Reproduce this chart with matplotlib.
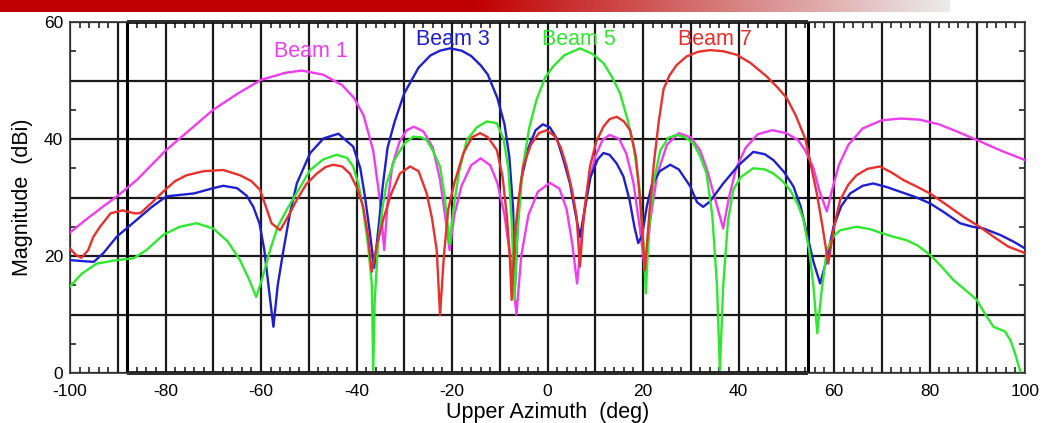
import numpy as np
import matplotlib.pyplot as plt
from matplotlib.ticker import MultipleLocator, FuncFormatter

plt.rcParams['font.family'] = ['Liberation Sans', 'DejaVu Sans']

# Beam 1 (magenta)
beam1_az = [-100, -97, -93, -90, -86, -80, -75, -70, -65, -60, -55, -51.5, -47, -43,
            -40.5, -38.5, -36.5, -35, -34.2, -33.5, -32.5, -31, -29.5, -28, -26, -24,
            -22.5, -21.3, -20.5, -19.5, -18, -16, -14, -12, -10.5, -9, -7.5, -6.5,
            -5.5, -4, -2, 0.5, 2.5, 4, 5.2, 6.2, 7.2, 8.5, 10, 11.5, 13, 15, 16.5,
            18, 19.3, 20.5, 21.5, 23, 25, 27.5, 30, 32, 33.5, 35, 36.8, 38, 39.5,
            41.5, 44, 47, 50, 52.5, 54, 55.7, 57, 58.5, 59.5, 61, 63, 66, 70, 74,
            78, 82, 86, 90, 95, 100]
beam1_db = [24, 26, 28.5, 30.3, 33, 38, 41.5, 45, 47.7, 50.1, 51.3, 51.7, 51, 49.2,
            47, 44, 38, 29, 21, 29, 35.5, 39.5, 41.5, 42.1, 41.3, 38.5,
            33, 26, 21, 27, 32, 35.5, 36.7, 35.5, 32.5, 27, 18, 10,
            20, 27, 31, 32.5, 31.5, 28, 22, 15.3, 24, 32, 37, 39.8, 40.7, 40, 37.5,
            32.5, 25, 17, 26, 34, 39, 41, 40.3, 38, 34.5, 30, 24.7, 30, 35,
            38.5, 40.8, 41.5, 41, 39.8, 38, 35, 31, 27.6, 31, 35.5, 39, 41.8, 43.2, 43.5,
            43.3, 42.5, 41.2, 39.8, 38, 36.4]

# Beam 3 (blue)
beam3_az = [-100, -97, -95, -93, -90.2, -86, -83, -79.8, -74, -70, -67.9, -65, -63,
            -61.6, -60.3, -59.3, -58.3, -57.4, -56.5, -55.3, -54, -52.5, -49.7, -46.9,
            -43.8, -40.7, -39.2, -38.2, -37.2, -36.3, -35.5, -34.5, -33.5, -32, -30,
            -27, -24.5, -22.5, -20.4, -18, -16, -14, -12.5, -10.5, -9, -8, -7.2, -6.8,
            -6.2, -5.5, -4, -2.5, -1, 0.5, 2, 3.5, 4.7, 5.8, 6.8, 7.8, 9, 10.5, 11.7,
            13, 14.5, 15.9, 17.2, 18.2, 19, 19.8, 20.8, 21.8, 23.5, 25.7, 27.5, 29.9,
            31.3, 32.6, 34, 36.8, 40, 43.1, 45.5, 47.3, 49.5, 51.5, 53, 54.3, 55.7,
            57.1, 58.5, 59.9, 61.5, 63.4, 66, 68.2, 71, 73.8, 77, 80.1, 83, 86.4, 89,
            91.3, 94.8, 97.5, 100]
beam3_db = [19.3, 19.1, 19.0, 20.5, 23.3, 26.2, 28.3, 30.2, 30.7, 31.6, 32, 31.6, 30.3,
            28.4, 25.5, 21, 14, 7.9, 15, 21, 27, 32.4, 37.6, 40.1,
            40.9, 38.7, 35, 30, 24, 18, 24, 32, 38.5, 43, 47.8,
            52.2, 54.3, 55.1, 55.5, 55.1, 54.2, 52.6, 51, 47, 42.5, 37, 28, 15,
            26, 33, 38.5, 41.5, 42.5, 42, 40, 36, 32.4, 27.5, 23.3, 28, 33.5, 36.5, 37.6,
            37.3, 35.8, 33.6, 29.5, 25, 22.2, 23.5, 28.5, 32, 34.5, 35.6, 34.8, 31.9,
            29.2, 28.4, 29.3, 32.4, 35.5, 37.8, 37.4, 36.4, 34.4, 31.9, 28.5, 23.9, 19,
            15.3, 19.5, 25, 28.5, 30.7, 32, 32.4, 31.8, 31, 30.1, 29, 27.5, 25.6, 25,
            24.7, 23.6, 22.5, 21.3]

# Beam 5 (green)
beam5_az = [-100, -97.5, -94.4, -90.2, -86.7, -84, -80.5, -77, -73.5, -70, -67, -64.4,
            -62.5, -61, -59.8, -58.1, -56.5, -54.6, -52, -49.7, -47, -44.2, -42, -40.7,
            -39.5, -38.6, -37.6, -36.8, -36.5, -36.2, -35.5, -34.6, -33.7, -32, -30,
            -28.1, -26.5, -25.3, -24, -22.5, -21.5, -20.5, -19.7, -18.5, -16.9, -14.8,
            -12.7, -10.6, -9.2, -8.2, -7.5, -6.9, -6.3, -5.2, -3.8, -2.3, -0.5, 1.2,
            3.5, 6.8, 9.5, 11.7, 13.5, 15.2, 16.7, 18, 19.2, 20.1, 20.6, 21.2, 22.2,
            23.6, 25.3, 27, 28.8, 30.5, 32, 33.3, 34.5, 35.5, 36.1, 36.8, 37.8, 38.9,
            40.5, 43.1, 45.5, 47.3, 49.2, 50.8, 52.5, 53.6, 54.8, 55.7, 56.5, 57.4,
            58.5, 60, 61.3, 64.7, 67.5, 70, 72.4, 75.2, 77.5, 80.1, 82.5, 85, 87.5,
            89.9, 91.7, 93.4, 95.8, 97, 97.9, 99]
beam5_db = [14.8, 17, 18.7, 19.3, 19.6, 21, 23.6, 25, 25.6, 24.7, 22.5, 19.3,
            16, 13, 16, 21, 25, 27.9, 31.5, 34.7, 36.5, 37.3, 36.8, 35.3,
            32, 27.9, 22, 15.3, 0.5, 12, 22, 28, 32.4, 36.5, 39.2,
            40.4, 40.3, 39.8, 38, 35.3, 30, 22, 28, 34.5, 39.8, 42,
            43, 42.7, 40, 35, 26, 12.5, 24, 35, 42, 46.7, 50.5, 52.4,
            54.3, 55.5, 54.5, 53, 50.6, 47.8, 43.5, 39, 32, 22, 13.6, 24, 32.5,
            38, 40.2, 40.7, 40.3, 39.3, 37, 34.1, 27, 15, 0.5, 15, 26, 31.3,
            33.5, 35, 34.8, 34.1, 32.8, 31.3, 28.7, 26.2, 21, 14.8, 6.8, 14,
            21, 23.5, 24.4, 25, 24.6, 23.9, 23.3, 22.7, 21.8, 20.2, 18.2, 15.9, 14.2,
            12.5, 10, 7.9, 7.1, 5.5, 3.4, 0.3]

# Beam 7 (red)
beam7_az = [-100, -98.8, -97.6, -96.2, -95.1, -93.7, -91.5, -89, -86.5, -85.3, -83,
            -80.5, -78, -75.6, -72, -67.9, -64.4, -62, -60.2, -58.8, -57.8, -56, -54.5,
            -52.5, -50.5, -48.3, -46.5, -44.9, -43, -41.4, -39.8, -38.6, -37.6, -36.8,
            -35.7, -34.4, -32.8, -30.9, -28.8, -27, -25.3, -24.2, -23.2, -22.5, -21.7,
            -20.8, -19.5, -17.6, -15.8, -14.1, -12.5, -10.6, -9.4, -8.5, -7.9, -7.5,
            -6.8, -6, -5.1, -3.5, -1.8, -0.2, 1.5, 2.8, 4, 5.2, 6.1, 6.8, 7.6, 8.9,
            10.2, 11.7, 13, 14.5, 16, 17.3, 18.5, 19.4, 20.4, 21.4, 22.3, 23.3, 24.3,
            25.5, 27, 29.1, 31.5, 34, 36.8, 39.6, 42.5, 45.9, 48.3, 50.1, 52, 54,
            55.3, 56.4, 57.6, 58.8, 60, 61.3, 63, 64.7, 67, 69.6, 72, 74.5, 77, 80.1,
            84, 87.1, 90.5, 93.4, 96.5, 100]
beam7_db = [21.3, 20.2, 19.7, 21, 23.3, 25, 27.3, 27.8, 27.3, 27.3, 29,
            31, 32.8, 33.8, 34.5, 34.7, 33.8, 32.8, 31.3, 28, 25.6, 24.4, 26.5,
            29.6, 32.3, 34.1, 35.2, 35.6, 35.3, 34.1, 31.5, 28.4, 23.5, 17.3,
            22, 26.2, 30.5, 34.1, 35.3, 34.5, 30.7, 26.5, 21, 9.9, 20,
            27.9, 32.5, 37.6, 40.3, 41, 40.3, 38.1, 33.5, 26.7, 20, 12.5,
            24, 30, 35.3, 39, 41, 41.5, 40.5, 38.5, 35.3, 31, 26.7, 18.2, 27, 35.3,
            39.5, 42.1, 43.4, 43.8, 43, 41.5, 37, 29.6, 17.6, 28, 36, 43, 48.5,
            50.8, 52.6, 54.1, 54.9, 55.2, 55, 54.4, 53, 50.7, 48.7, 47, 44, 40,
            35, 30.7, 25, 18.7, 25, 29.6, 32.2, 33.8, 34.9, 35.3, 34.3, 33, 32, 30.7,
            28.5, 26.7, 25, 23.3, 21.6, 20.5]

beam_names = ['Beam 1', 'Beam 3', 'Beam 5', 'Beam 7']
beam_colors = ['#f03cf0', '#1f1fd2', '#2ee82e', '#e8302c']
label_az = [-49.6, -19.9, 6.6, 35.1]
label_db = [54.0, 56.1, 56.1, 56.1]

frame_left = -88
frame_right = 54.5

W, H = 1054, 423
fig = plt.figure(figsize=(W / 100, H / 100), dpi=100)

# cropped slide title bar at the top
bar = fig.add_axes([0, 1 - 12 / H, 950 / W, 12 / H])
t = np.linspace(0, 1, 600)
red = np.array([192, 0, 0]) / 255
gray = np.array([236, 236, 236]) / 255
f = np.clip((t - 0.5) / 0.5, 0, 1)[:, None]
grad = red * (1 - f) + gray * f
bar.imshow(grad[None, :, :], aspect='auto', extent=[0, 1, 0, 1])
bar.axis('off')

ax = fig.add_axes([70 / W, (H - 373) / H, 955 / W, 351 / H])

ax.grid(True, which='major', color='#1a1a1a', lw=1.6, zorder=1)
ax.axvline(frame_left, color='black', lw=2.2, zorder=2)
ax.axvline(frame_right, color='black', lw=2.2, zorder=2)
ax.hlines([0, 60], frame_left, frame_right, color='black', lw=2.6, zorder=2,
          clip_on=False)

beams = [(beam1_az, beam1_db), (beam3_az, beam3_db),
         (beam5_az, beam5_db), (beam7_az, beam7_db)]
for (az, db), c in zip(beams, beam_colors):
    ax.plot(az, db, color=c, lw=1.7, zorder=3)

for name, c, x, y in zip(beam_names, beam_colors, label_az, label_db):
    ax.text(x, y, name, color=c, fontsize=15.5, ha='center', va='baseline', zorder=4)

ax.set_xlim(-100, 100)
ax.set_ylim(0, 60)
ax.xaxis.set_major_locator(MultipleLocator(10))
ax.xaxis.set_minor_locator(MultipleLocator(2))
ax.yaxis.set_major_locator(MultipleLocator(10))
ax.yaxis.set_minor_locator(MultipleLocator(5))
ax.xaxis.set_major_formatter(FuncFormatter(lambda v, p: '%d' % v if round(v) % 20 == 0 else ''))
ax.yaxis.set_major_formatter(FuncFormatter(lambda v, p: '%d' % v if round(v) % 20 == 0 else ''))
ax.tick_params(which='both', direction='in', top=True, right=True, labelsize=12.5,
               color='#222222')
ax.tick_params(which='major', length=0)
ax.tick_params(axis='x', which='major', pad=8)
ax.tick_params(axis='y', which='major', pad=5)
ax.tick_params(which='minor', length=4, width=1.2)
for s in ax.spines.values():
    s.set_color('#333333')
    s.set_linewidth(1.2)

ax.set_xlabel('Upper Azimuth  (deg)', fontsize=15.5, labelpad=2)
ax.set_ylabel('Magnitude  (dBi)', fontsize=15.5, labelpad=8)

fig.savefig('out.png', dpi=100)
